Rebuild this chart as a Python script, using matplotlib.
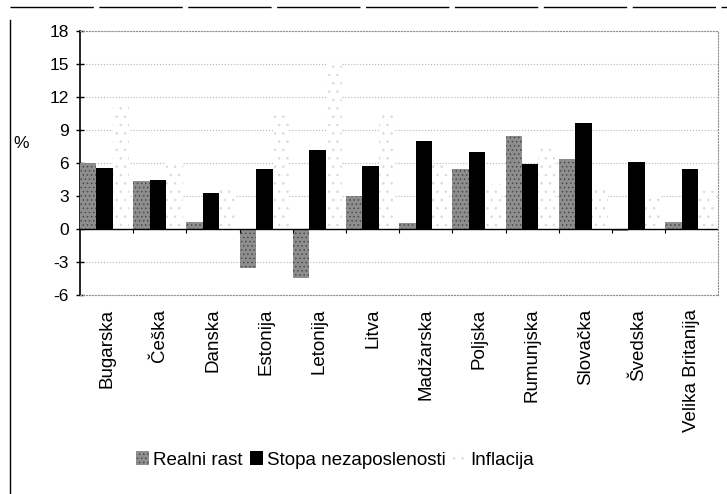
import numpy as np
import matplotlib
matplotlib.use('Agg')
import matplotlib.pyplot as plt
from matplotlib.lines import Line2D

plt.rcParams['font.family'] = ['Liberation Sans', 'DejaVu Sans']
plt.rcParams['hatch.linewidth'] = 0.6

# Data
categories = ['Bugarska', 'Češka', 'Danska', 'Estonija', 'Letonija', 'Litva',
              'Madžarska', 'Poljska', 'Rumunjska', 'Slovačka', 'Švedska',
              'Velika Britanija']
realni_rast = [6.0, 4.3, 0.6, -3.6, -4.5, 3.0, 0.5, 5.4, 8.4, 6.3, -0.2, 0.6]
nezaposlenost = [5.5, 4.4, 3.3, 5.4, 7.2, 5.7, 8.0, 7.0, 5.9, 9.6, 6.1, 5.4]
inflacija = [11.5, 6.1, 3.5, 10.5, 15.0, 10.6, 5.9, 4.1, 7.5, 4.0, 3.0, 3.4]
y_ticks = [-6, -3, 0, 3, 6, 9, 12, 15, 18]

fig = plt.figure(figsize=(7.27, 4.94), dpi=100)
ax = fig.add_axes([0.110, 0.403, 0.878, 0.535])

x = np.arange(len(categories))
w = 0.31
start = x - 0.5

ax.bar(start + 0.5 * w, realni_rast, w, color='#8e8e8e', hatch='....',
       edgecolor='#4a4a4a', linewidth=0, label='Realni rast', zorder=3)
ax.bar(start + 1.5 * w, nezaposlenost, w, color='black', linewidth=0,
       label='Stopa nezaposlenosti', zorder=3)
ax.bar(start + 2.5 * w, inflacija, w, color='white', hatch='..',
       edgecolor='#dadada', linewidth=0, label='Inflacija', zorder=2)

ax.set_xlim(-0.5, len(categories) - 0.5)
ax.set_ylim(-6, 18)
ax.set_yticks(y_ticks)
ax.set_yticklabels([str(t) for t in y_ticks], fontsize=12.5)
ax.tick_params(axis='y', direction='inout', length=6, width=1, pad=5)
ax.set_xticks(x)
ax.set_xticklabels(categories, rotation=90, fontsize=13.5)
ax.tick_params(axis='x', length=0, pad=10)

# light dotted grid and zero line
ax.yaxis.grid(True, linestyle=':', color='#b5b5b5', linewidth=0.8, zorder=0)
ax.axhline(0, color='black', linewidth=1.0, zorder=4)
ax.vlines(x[1:] - 0.5, -0.35, 0, color='black', linewidth=0.8, zorder=4)

for side in ['top', 'right', 'bottom']:
    ax.spines[side].set_linestyle(':')
    ax.spines[side].set_color('#909090')
    ax.spines[side].set_linewidth(0.8)
ax.spines['left'].set_color('black')
ax.spines['left'].set_linewidth(1.2)

fig.text(0.018, 0.71, '%', fontsize=12.5, ha='left', va='center')

ax.legend(loc='center', bbox_to_anchor=(0.461, 0.069), bbox_transform=fig.transFigure,
          ncol=3, frameon=False, fontsize=13.5, handlelength=0.7, handleheight=0.8,
          handletextpad=0.2, columnspacing=0.4)

# page border of the scanned document
fig.add_artist(Line2D([0.014, 1.0], [0.985, 0.985], color='black', linewidth=1.0,
                      linestyle=(0, (60, 4))))
fig.add_artist(Line2D([0.014, 0.014], [0.0, 0.96], color='black', linewidth=1.0))

fig.savefig('out.png', dpi=100)
